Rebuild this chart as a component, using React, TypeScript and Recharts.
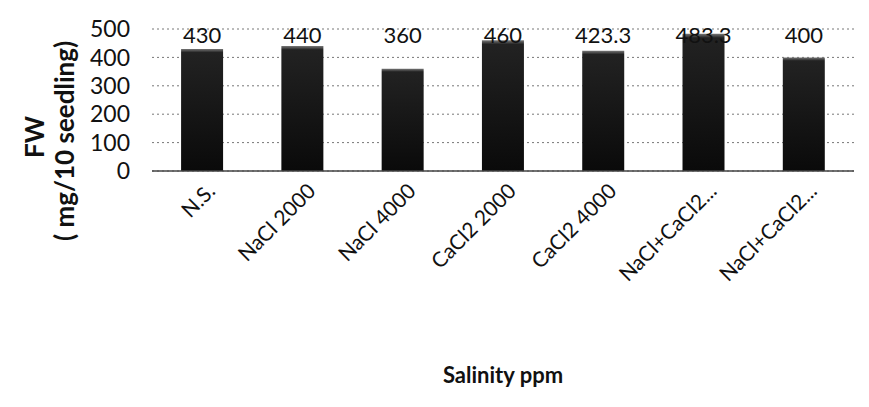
import React from 'react';
import { BarChart, Bar, XAxis, YAxis, CartesianGrid, LabelList, Label } from 'recharts';

const categories = ['N.S.', 'NaCl 2000', 'NaCl 4000', 'CaCl2 2000', 'CaCl2 4000', 'NaCl+CaCl2...', 'NaCl+CaCl2...'];
const fwValues = [430, 440, 360, 460, 423.3, 483.3, 400];
const valueLabels = ['430', '440', '360', '460', '423.3', '483.3', '400'];
const yTicks = [0, 100, 200, 300, 400, 500];

const data = categories.map((name, i) => ({ key: `c${i}`, name, fw: fwValues[i], lbl: valueLabels[i] }));

const FONT = 'Lato, "Open Sans", sans-serif';

const XTick = ({ x, y, payload }: any) => {
  const name = data[payload.index]?.name ?? payload.value;
  return (
    <g transform={`translate(${x + 10},${y + 15})`}>
      <text transform="rotate(-45)" textAnchor="end" dy="0.3em" fontSize={21} fontFamily={FONT} fill="#111">
        {name}
      </text>
    </g>
  );
};

// labels sit at a fixed level (value 450) like in the original
const ValueLabel = (props: any) => {
  const { x, y, width, height, index } = props;
  const base = y + height;
  const perUnit = height / fwValues[index];
  return (
    <text x={x + width / 2} y={base - perUnit * 450} textAnchor="middle" fontSize={22} fontFamily={FONT} fill="#111">
      {valueLabels[index]}
    </text>
  );
};

export default function App() {
  return (
    <div style={{ position: 'relative', margin: -8, width: 869, height: 407, background: '#fff', fontFamily: FONT }}>
      <div style={{ position: 'absolute', left: 0, top: 5, width: 869, height: 2, background: '#333' }} />
      <div style={{ position: 'absolute', left: 4, top: 7, width: 0, height: 400, borderLeft: '1px dashed #aaa' }} />
      <svg width={100} height={300} style={{ position: 'absolute', left: 0, top: 0 }}>
        <g fontFamily={FONT} fontWeight="bold" fontSize={26} fill="#111">
          <text x={34} y={137} transform="rotate(-90 34 137)" textAnchor="middle" dominantBaseline="central">FW</text>
          <text x={64} y={141} transform="rotate(-90 64 141)" textAnchor="middle" dominantBaseline="central">( mg/10 seedling)</text>
        </g>
      </svg>
      <BarChart width={869} height={407} data={data} margin={{ top: 29, right: 15, left: 0, bottom: 0 }} barCategoryGap="29%">
        <defs>
          <linearGradient id="barFill" x1="0" y1="0" x2="0" y2="1">
            <stop offset="0%" stopColor="#777" />
            <stop offset="3%" stopColor="#222" />
            <stop offset="100%" stopColor="#0a0a0a" />
          </linearGradient>
        </defs>
        <CartesianGrid vertical={false} stroke="#777" strokeDasharray="2 3" />
        <XAxis
          dataKey="key"
          height={236}
          interval={0}
          tick={<XTick />}
          tickLine={false}
          tickSize={0}
          axisLine={{ stroke: '#444', strokeWidth: 1.5 }}
        >
          <Label value="Salinity ppm" position="insideBottom" offset={24} fontSize={22} fontWeight="bold" fill="#111" fontFamily={FONT} />
        </XAxis>
        <YAxis
          width={152}
          domain={[0, 500]}
          ticks={yTicks}
          interval={0}
          axisLine={false}
          tickLine={false}
          tickSize={0}
          tickMargin={22}
          tick={{ fontSize: 23, fill: '#111', fontFamily: FONT }}
        />
        <Bar dataKey="fw" fill="url(#barFill)" isAnimationActive={false}>
          <LabelList dataKey="fw" content={<ValueLabel />} />
        </Bar>
      </BarChart>
    </div>
  );
}
